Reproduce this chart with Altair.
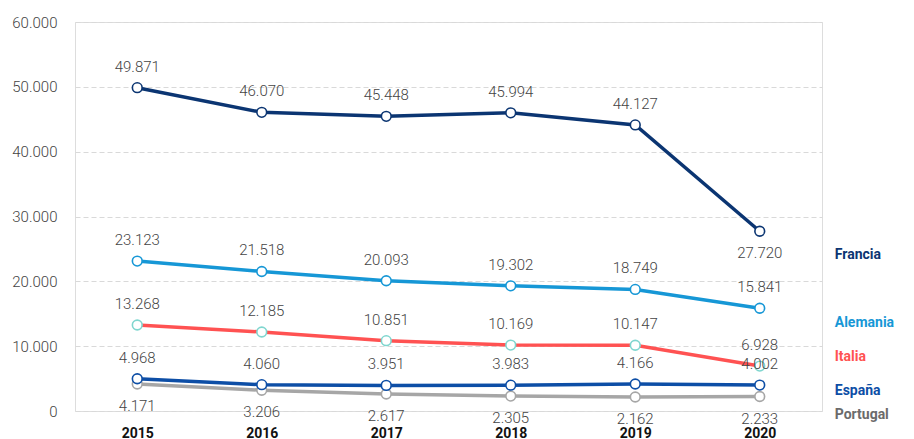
import altair as alt
import pandas as pd

years = ["2015", "2016", "2017", "2018", "2019", "2020"]
countries = ["Portugal", "España", "Italia", "Alemania", "Francia"]
francia = [49871, 46070, 45448, 45994, 44127, 27720]
alemania = [23123, 21518, 20093, 19302, 18749, 15841]
italia = [13268, 12185, 10851, 10169, 10147, 6928]
espana = [4968, 4060, 3951, 3983, 4166, 4002]
portugal = [4171, 3206, 2617, 2305, 2162, 2233]
# anchor values (data units) for the right-hand series names
name_anchor = [-620, 3090, 8330, 13580, 24070]

series = {"Francia": francia, "Alemania": alemania, "Italia": italia,
          "España": espana, "Portugal": portugal}
rows = []
for c in countries:
    for y, v in zip(years, series[c]):
        rows.append({"year": y, "country": c, "value": v,
                     "order": countries.index(c)})
df = pd.DataFrame(rows)
names = pd.DataFrame({"country": countries, "value": name_anchor,
                      "year": ["2020"] * len(countries)})

line_colors = ["#a6a6a6", "#0d4ea6", "#ff5252", "#1697d6", "#0b3572"]
point_colors = ["#a6a6a6", "#0d4ea6", "#7fd6cf", "#1697d6", "#0b3572"]
name_colors = ["#6b6b6b", "#0d4ea6", "#ff5252", "#1697d6", "#0b3572"]

FONT = "Roboto"
fmt = "replace(format(datum.value, ','), ',', '.')"

x = alt.X("year:O", title=None,
          scale=alt.Scale(type="point", padding=0.5),
          axis=alt.Axis(labelAngle=0, labelFontWeight="bold", labelColor="#111111",
                        labelFontSize=14, labelFont=FONT, labelPadding=15,
                        domain=False, ticks=False, grid=False))
y = alt.Y("value:Q", title=None,
          scale=alt.Scale(domain=[0, 60000], nice=False),
          axis=alt.Axis(values=[0, 10000, 20000, 30000, 40000, 50000, 60000],
                        labelExpr=fmt, labelFontSize=15, labelColor="#444444",
                        labelFont=FONT, labelFontWeight=300, labelPadding=18,
                        domain=False, ticks=False,
                        grid=True, gridColor="#d9d9d9", gridDash=[5, 3], gridWidth=1))

base = alt.Chart(df).encode(x=x, y=y)

lines = base.mark_line(strokeWidth=3.5).encode(
    color=alt.Color("country:N", scale=alt.Scale(domain=countries, range=line_colors), legend=None),
    order=alt.Order("order:Q"),
    detail="country:N",
)
points = base.mark_point(shape="circle", filled=False, fill="white", fillOpacity=1,
                         size=95, strokeWidth=1.6, opacity=1).encode(
    stroke=alt.Stroke("country:N", scale=alt.Scale(domain=countries, range=point_colors), legend=None),
)

above = base.transform_filter(
    "datum.country != 'Portugal' && !(datum.country == 'Francia' && datum.year == '2020')"
).transform_calculate(lbl=fmt).mark_text(
    dy=-21, fontSize=15, fontWeight=300, color="#444444", font=FONT
).encode(text="lbl:N")

below = base.transform_filter(
    "datum.country == 'Portugal' || (datum.country == 'Francia' && datum.year == '2020')"
).transform_calculate(lbl=fmt).mark_text(
    dy=22, fontSize=15, fontWeight=300, color="#444444", font=FONT
).encode(text="lbl:N")

name_text = alt.Chart(names).mark_text(
    align="left", dx=75, fontSize=14, fontWeight="bold", font=FONT
).encode(
    x=alt.X("year:O", scale=alt.Scale(type="point", padding=0.5)),
    y=alt.Y("value:Q"),
    text="country:N",
    color=alt.Color("country:N", scale=alt.Scale(domain=countries, range=name_colors), legend=None),
)

chart = alt.layer(lines, points, above, below, name_text).resolve_scale(
    color="independent"
).properties(
    width=747, height=389,
    autosize=alt.AutoSizeParams(type="none"),
    padding={"left": 75, "top": 22, "right": 92, "bottom": 28},
).configure_view(stroke=None).configure(background="white")

chart.save("out.html", embed_options={"renderer": "svg", "actions": False})
